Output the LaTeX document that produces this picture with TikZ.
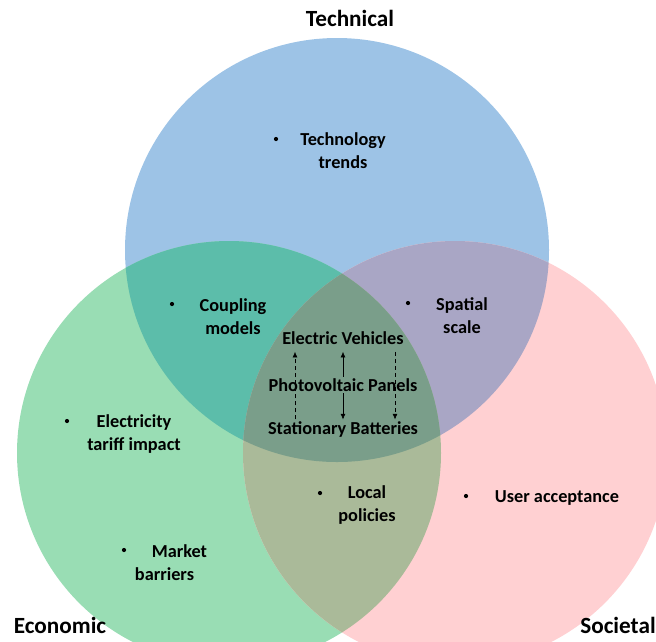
\documentclass[tikz,border=0pt]{standalone}
\usepackage{fontspec}
\setmainfont{Carlito}
\usetikzlibrary{arrows.meta,positioning}

\definecolor{techblue}{RGB}{157,195,230}
\definecolor{econgreen}{RGB}{153,221,180}
\definecolor{socpink}{RGB}{255,208,210}
\definecolor{techecon}{RGB}{92,189,170}
\definecolor{techsoc}{RGB}{169,166,197}
\definecolor{econsoc}{RGB}{170,186,153}
\definecolor{allthree}{RGB}{122,158,138}

\begin{document}
\begin{tikzpicture}[
  x=0.025cm, y=-0.025cm,
  title/.style={font=\bfseries\fontsize{16.5}{20}\selectfont},
  item/.style={font=\bfseries\fontsize{13}{16.3}\selectfont, align=center, inner sep=1pt},
  dot/.style={circle, fill=black, inner sep=0pt, minimum size=3pt},
  link/.style={-{Latex[length=4pt,width=3.5pt]}, thin}
]
\useasboundingbox (0,0) rectangle (656,641);

% Circles
\coordinate (T) at (337,250);
\coordinate (E) at (229,453);
\coordinate (S) at (455,453);
\fill[techblue] (T) circle[radius=212];
\fill[econgreen] (E) circle[radius=212];
\fill[socpink] (S) circle[radius=212];

% Overlaps
\begin{scope}
  \clip (T) circle[radius=212];
  \fill[techecon] (E) circle[radius=212];
  \fill[techsoc] (S) circle[radius=212];
\end{scope}
\begin{scope}
  \clip (E) circle[radius=212];
  \fill[econsoc] (S) circle[radius=212];
\end{scope}
\begin{scope}
  \clip (T) circle[radius=212];
  \clip (E) circle[radius=212];
  \fill[allthree] (S) circle[radius=212];
\end{scope}

% Titles
\node[title] (tech) at (350,18) {Technical};
\node[title] (econ) at (60,625) {Economic};
\node[title] (soc) at (618,625) {Societal};

% Items
\node[item] (trends) at (343,151) {Technology\\trends};
\node[dot] (trendsdot) at (276,139) {};
\node[item] (coupling) at (233,317) {Coupling\\models};
\node[dot] (couplingdot) at (172,304) {};
\node[item] (spatial) at (462,316) {Spatial\\scale};
\node[dot] (spatialdot) at (408,303) {};
\node[item] (tariff) at (134,434) {Electricity\\tariff impact};
\node[dot] (tariffdot) at (67,421) {};
\node[item, align=left] (market) at (171,563) {\hspace{12pt}Market\\barriers};
\node[dot] (marketdot) at (124,550) {};
\node[item] (local) at (367,505) {Local\\policies};
\node[dot] (localdot) at (320,493) {};
\node[item] (user) at (557,498) {User acceptance};
\node[dot] (userdot) at (466,496) {};

% Centre
\node[item] (ev) at (343,338) {Electric Vehicles};
\node[item] (pv) at (343,385) {Photovoltaic Panels};
\node[item] (sb) at (343,429) {Stationary Batteries};

\draw[link, densely dashed, shorten >=4pt] ([xshift=-1.2cm]sb.north) -- ([xshift=-1.2cm]ev.south);
\draw[link, shorten >=4pt] (pv.north) -- (ev.south);
\draw[link] (pv.south) -- (sb.north);
\draw[link, densely dashed, shorten <=4pt] ([xshift=1.3cm]ev.south) -- ([xshift=1.3cm]sb.north);

\end{tikzpicture}
\end{document}
